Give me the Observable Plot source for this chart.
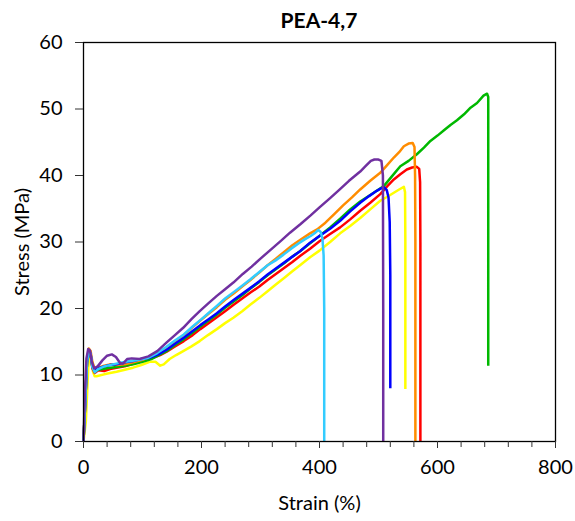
<!DOCTYPE html>
<html>
<head>
<meta charset="utf-8">
<script src="https://cdn.jsdelivr.net/npm/d3@7"></script>
<script src="https://cdn.jsdelivr.net/npm/@observablehq/plot@0.6"></script>
<style>
  html, body { margin: 0; padding: 0; background: #fff; }
  body { width: 575px; height: 521px; overflow: hidden; font-family: Lato, "Noto Sans", sans-serif; }
  #title { box-sizing: border-box; height: 32px; padding: 8px 20px 0 83px; line-height: 24px;
           text-align: center; font-weight: 700; font-size: 21px; color: #000; }
</style>
</head>
<body>
<div id="title">PEA-4,7</div>
<div id="chart"></div>
<script>
// ---- Data (strain %, stress MPa) ----
const title = "PEA-4,7";
const xLabel = "Strain (%)";
const yLabel = "Stress (MPa)";
const xTicks = [0, 200, 400, 600, 800];
const xMinorTicks = [40, 80, 120, 160, 240, 280, 320, 360, 440, 480, 520, 560, 640, 680, 720, 760];
const yTicks = [0, 10, 20, 30, 40, 50, 60];

const specimens = ["S1", "S2", "S3", "S4", "S5", "S6", "S7"];
const colors = ["#FFFF00", "#FF0000", "#00B800", "#FF8C00", "#0000FF", "#33CCFF", "#7030A0"];

const yellowCurve = [[0,0],[4,3],[6,7],[8,11],[10,13.0],[13,12.5],[16,10.5],[19,9.8],[22,9.8],[35,10.1],[45,10.3],[56,10.5],[70,10.8],[84,11.1],[98,11.5],[113,12.0],[122,12.0],[130,11.4],[136,11.6],[146,12.4],[157,13.0],[169,13.6],[183,14.3],[197,15.1],[211,16.0],[226,16.9],[240,17.8],[254,18.6],[269,19.6],[283,20.6],[298,21.6],[312,22.6],[326,23.6],[340,24.6],[354,25.6],[367,26.5],[384,27.7],[400,28.7],[418,30.0],[435,31.3],[452,32.4],[469,33.6],[486,34.9],[503,36.2],[515,36.8],[526,37.4],[535,37.9],[543,38.3],[545,37.5],[545.5,30],[545.5,7.9]];

const redCurve = [[0,0],[3,6],[6,12],[9,13.6],[12,13.0],[15,11.0],[19,10.3],[25,10.7],[35,10.6],[45,10.9],[56,11.1],[70,11.3],[84,11.7],[100,12.1],[115,12.5],[130,13.0],[141,13.5],[155,14.3],[170,15.1],[185,16.0],[198,16.9],[212,17.8],[226,18.7],[240,19.6],[255,20.6],[269,21.5],[283,22.4],[298,23.3],[312,24.3],[326,25.2],[340,26.1],[354,27.0],[367,27.9],[384,29.0],[400,30.1],[418,31.2],[435,32.2],[452,33.4],[469,34.7],[486,35.9],[503,37.2],[515,38.4],[526,39.4],[537,40.2],[548,40.9],[557,41.2],[565,41.3],[569,41.0],[570.5,39],[571,30],[571,0]];

const greenCurve = [[0,0],[3,6],[6,12],[9,13.6],[12,13.1],[15,11.2],[19,10.5],[25,10.8],[40,11.0],[56,11.2],[70,11.4],[84,11.6],[100,12.0],[115,12.4],[130,13.1],[141,13.6],[155,14.5],[170,15.4],[185,16.4],[198,17.3],[212,18.2],[226,19.1],[240,20.1],[255,21.1],[269,22.0],[283,23.0],[298,24.0],[312,25.0],[326,25.9],[340,26.8],[354,27.8],[367,28.6],[384,29.8],[400,30.9],[418,32.2],[435,33.5],[452,34.9],[469,36.1],[490,37.3],[509,38.4],[523,39.9],[537,41.4],[551,42.2],[565,43.2],[577,44.2],[588,45.2],[600,46.0],[611,46.8],[622,47.6],[633,48.3],[645,49.2],[656,50.2],[667,50.9],[678,52.0],[684,52.3],[686,51.8],[686,11.4]];

const orangeCurve = [[0,0],[3,6],[6,12],[9,14.0],[12,13.6],[15,12.0],[19,10.9],[25,11.1],[35,11.4],[45,11.6],[56,11.5],[70,11.6],[84,11.9],[100,12.3],[115,12.8],[130,13.4],[141,14.0],[155,15.0],[170,16.0],[185,17.2],[198,18.2],[212,19.2],[226,20.2],[240,21.3],[255,22.3],[269,23.3],[283,24.3],[298,25.4],[312,26.5],[326,27.5],[340,28.5],[354,29.5],[367,30.3],[384,31.3],[396,31.9],[410,32.9],[425,34.2],[440,35.5],[455,36.7],[469,37.9],[486,39.2],[503,40.4],[515,41.6],[526,42.7],[535,43.5],[543,44.4],[551,44.8],[558,44.9],[561,44.3],[562,40],[562.5,30],[562.5,0]];

const blueCurve = [[0,0],[3,6],[6,12],[9,13.6],[12,13.2],[15,11.3],[19,10.7],[24,11.0],[35,11.3],[45,11.5],[56,11.6],[70,11.9],[84,12.1],[98,12.4],[113,12.6],[127,13.1],[141,13.8],[155,14.7],[170,15.6],[185,16.6],[198,17.5],[212,18.4],[226,19.3],[240,20.3],[255,21.3],[269,22.2],[283,23.1],[298,24.1],[312,25.1],[326,26.0],[340,26.9],[354,27.8],[367,28.6],[384,29.9],[400,30.9],[418,32.0],[435,33.2],[452,34.6],[469,35.9],[484,36.9],[497,37.7],[505,38.1],[510,38.2],[514,37.8],[517,36.7],[519,33],[520,25],[520,8.0]];

const lightBlueCurve = [[0,0],[3,6],[6,12],[9,13.7],[12,13.2],[15,11.2],[19,10.4],[25,10.9],[35,11.3],[50,11.6],[65,11.9],[80,12.1],[95,12.3],[110,12.6],[125,13.3],[140,14.2],[155,15.2],[170,16.1],[185,17.3],[200,18.4],[213,19.4],[226,20.4],[240,21.5],[255,22.5],[270,23.5],[283,24.4],[298,25.5],[312,26.5],[325,27.2],[339,28.1],[352,29.0],[365,29.8],[375,30.4],[385,30.9],[393,31.4],[398,31.8],[402,31.5],[405,30.5],[407,28],[408,20],[408,0]];

const purpleCurve = [[0,0],[2,6],[5,12.5],[8,13.9],[11,13.7],[14,12],[18,11.0],[24,11.3],[32,12.2],[40,12.9],[48,13.1],[55,12.7],[62,11.8],[67,11.7],[74,12.4],[82,12.5],[95,12.4],[110,12.8],[125,13.6],[141,14.9],[155,16.0],[169,17.1],[183,18.4],[197,19.6],[212,20.8],[226,21.9],[240,22.9],[254,23.9],[270,25.2],[285,26.3],[300,27.5],[318,28.9],[335,30.2],[350,31.4],[368,32.7],[385,34.0],[400,35.2],[418,36.6],[433,37.8],[450,39.2],[469,40.6],[478,41.4],[487,42.2],[493,42.4],[500,42.4],[505,42.2],[507.5,40],[508,20],[508,0]];

const curves = [yellowCurve, redCurve, greenCurve, orangeCurve, blueCurve, lightBlueCurve, purpleCurve];

document.getElementById("title").textContent = title;

const lineMarks = curves.map((c, i) =>
  Plot.line(c.map(([x, y]) => ({specimen: specimens[i], strain: x, stress: y})), {
    x: "strain", y: "stress", stroke: colors[i], strokeWidth: 2.5,
    strokeLinejoin: "round", strokeLinecap: "butt", curve: "linear"
  })
);

const chart = Plot.plot({
  width: 575,
  height: 489,
  marginTop: 10,
  marginLeft: 83,
  marginRight: 20,
  marginBottom: 80,
  style: {fontFamily: "Lato, 'Noto Sans', sans-serif", fontSize: "20px", color: "#000", background: "#fff", overflow: "visible"},
  x: {domain: [0, 800]},
  y: {domain: [0, 60]},
  marks: [
    ...lineMarks,
    Plot.frame({stroke: "#000", strokeWidth: 1.3}),
    Plot.axisX(xMinorTicks, {tickSize: 6, tickFormat: () => "", stroke: "#333", label: null}),
    Plot.axisX(xTicks, {tickSize: 7, tickPadding: 11, stroke: "#333", label: xLabel, labelAnchor: "center", labelArrow: "none", labelOffset: 68}),
    Plot.axisY(yTicks, {tickSize: 8, tickPadding: 13, stroke: "#333", label: yLabel, labelAnchor: "center", labelArrow: "none", labelOffset: 69})
  ]
});
document.getElementById("chart").appendChild(chart);
</script>
</body>
</html>
